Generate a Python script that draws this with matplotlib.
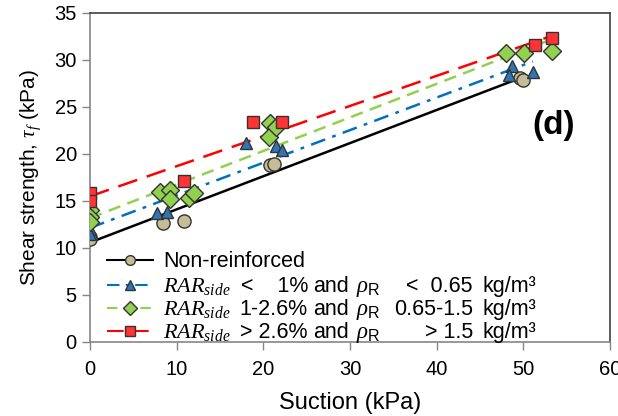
import matplotlib.pyplot as plt
import numpy as np

plt.rcParams['font.family'] = ['Liberation Sans', 'DejaVu Sans']
plt.rcParams['mathtext.fontset'] = 'custom'
plt.rcParams['mathtext.rm'] = 'Liberation Sans'
plt.rcParams['mathtext.it'] = 'Liberation Serif:italic'

# suction (kPa) and shear strength (kPa) per group
s_non = [0, 0, 8.4, 10.8, 20.8, 21.2, 49.6, 50.0]
t_non = [11.2, 10.9, 12.6, 12.9, 18.8, 18.9, 28.1, 27.9]

s_low = [0, 0, 7.7, 8.9, 18.0, 21.5, 22.1, 48.7, 48.4, 51.1]
t_low = [12.0, 11.5, 13.7, 13.8, 21.2, 20.8, 20.4, 29.3, 28.4, 28.7]

s_mid = [0, 0, 0, 8.1, 9.2, 9.2, 11.4, 12.0, 20.8, 20.6, 21.5, 48.0, 50.1, 53.3]
t_mid = [14.0, 13.3, 12.8, 15.9, 16.2, 15.2, 15.3, 15.8, 23.3, 21.8, 22.9, 30.7, 30.7, 30.9]

s_high = [0, 0, 10.9, 18.8, 22.2, 51.4, 53.3]
t_high = [15.8, 15.0, 17.1, 23.4, 23.4, 31.6, 32.3]

# legend columns: ratio range / density range
rar_txt = ['<    1%', '1-2.6%', '> 2.6%']
rho_txt = ['<  0.65', '0.65-1.5', '> 1.5']

groups = [
    (s_non, t_non, 'o', '#C4BD97', 'black', '-'),
    (s_low, t_low, '^', '#2E75B6', '#0070C0', (0, (6, 3, 1.5, 3))),
    (s_mid, t_mid, 'D', '#92D050', '#92D050', (0, (5, 3))),
    (s_high, t_high, 's', '#FF3333', '#FF0000', (0, (8, 4))),
]

fig = plt.figure(figsize=(6.18, 4.16), dpi=100)
ax = fig.add_axes([0.1456, 0.178, 0.8415, 0.791])

for s, t, mk, fc, lc, ls in groups:
    s = np.array(s)
    t = np.array(t)
    k, b = np.polyfit(s, t, 1)
    xs = np.array([0, s.max()])
    ax.plot(xs, b + k * xs, color=lc, ls=ls, lw=1.8, zorder=2)
    ms = 9.5 if mk == 'o' else 9
    ax.plot(s, t, mk, ms=ms, mfc=fc, mec='#333333', mew=1.0, zorder=3)

ax.set_xlim(0, 60)
ax.set_ylim(0, 35)
ax.set_xticks(range(0, 61, 10))
ax.set_yticks(range(0, 36, 5))
ax.tick_params(labelsize=14.5, colors='#868686', labelcolor='black', length=6, width=1)
ax.tick_params(axis='x', pad=7)
for side in ['top', 'right']:
    ax.spines[side].set_color('#404040')
    ax.spines[side].set_linewidth(1.2)
for side in ['left', 'bottom']:
    ax.spines[side].set_color('#868686')
    ax.spines[side].set_linewidth(1.2)

ax.set_xlabel('Suction (kPa)', fontsize=17, labelpad=9)
ax.set_ylabel(r'Shear strength, $\tau_{f}$ (kPa)', fontsize=15, labelpad=8)

ax.text(53.5, 23.0, '(d)', fontsize=24, fontweight='bold', ha='center', va='center')

# hand-built legend so the text columns line up
row_y = [0.228, 0.152, 0.082, 0.012]
fs = 15.5
tr = ax.transAxes
for i, (s, t, mk, fc, lc, ls) in enumerate(groups):
    y = row_y[i]
    yc = y + 0.022
    ax.plot([0.033, 0.121], [yc, yc], color=lc, ls=ls, lw=1.5, transform=tr, clip_on=False)
    ax.plot([0.077], [yc], mk, ms=7, mfc=fc, mec='#333333', mew=1.0, transform=tr, clip_on=False)
    if i == 0:
        ax.text(0.140, y, 'Non-reinforced', fontsize=fs, transform=tr, va='baseline')
        continue
    ax.text(0.140, y, r'$RAR_{side}$', fontsize=fs + 0.5, transform=tr, va='baseline')
    ax.text(0.419, y, rar_txt[i - 1], fontsize=fs, transform=tr, va='baseline', ha='right')
    ax.text(0.429, y, 'and', fontsize=fs, transform=tr, va='baseline')
    ax.text(0.511, y, r'$\rho_{\mathrm{R}}$', fontsize=16.5, transform=tr, va='baseline')
    ax.text(0.7365, y, rho_txt[i - 1], fontsize=fs, transform=tr, va='baseline', ha='right')
    ax.text(0.754, y, 'kg/m³', fontsize=fs, transform=tr, va='baseline')

fig.savefig('out.png', dpi=100)
